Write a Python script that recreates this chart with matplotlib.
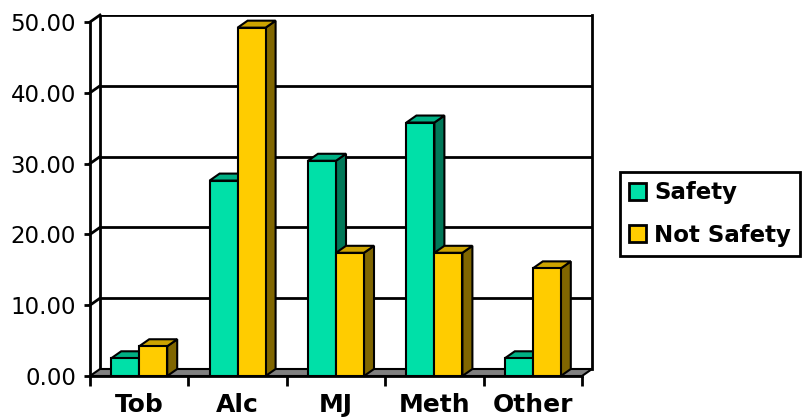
#! /usr/bin/env python3

import matplotlib
matplotlib.use("Agg")
import matplotlib.pyplot as plt
from matplotlib.patches import Polygon, Patch

categories = ["Tob", "Alc", "MJ", "Meth", "Other"]
safety = [2.5, 27.6, 30.4, 35.8, 2.5]
not_safety = [4.2, 49.2, 17.4, 17.4, 15.2]
series_names = ["Safety", "Not Safety"]

# face colours: front, top, side
green = ("#00E0A8", "#00B084", "#007858")
yellow = ("#FFCC00", "#CCA300", "#806600")

W, H = 803, 418
fig = plt.figure(figsize=(W / 100, H / 100), dpi=100)

# pixel layout of the front plane and the depth offset
x0_px, x1_px = 90, 582
y0_px, y50_px = 376, 22
depth_px = (10, 7)
cat_px = (x1_px - x0_px) / len(categories)
val_px = (y0_px - y50_px) / 50.0
dx = depth_px[0] / cat_px
dy = depth_px[1] / val_px

ax = fig.add_axes([x0_px / W, (H - y0_px) / H,
                   (x1_px - x0_px + depth_px[0]) / W,
                   (y0_px - y50_px + depth_px[1]) / H])
n = len(categories)
ax.set_xlim(-0.5, n - 0.5 + dx)
ax.set_ylim(0, 50 + dy)

lw = 2
# floor
ax.add_patch(Polygon([(-0.5, 0), (n - 0.5, 0), (n - 0.5 + dx, dy), (-0.5 + dx, dy)],
                     closed=True, facecolor="#808080", edgecolor="black",
                     linewidth=1.5, zorder=1))
# back wall with gridlines, plus the slanted bits on the side wall
for v in range(10, 51, 10):
    ax.plot([-0.5 + dx, n - 0.5 + dx], [v + dy, v + dy], color="black", lw=lw, zorder=0.5)
    ax.plot([-0.5, -0.5 + dx], [v, v + dy], color="black", lw=lw, zorder=0.5,
            clip_on=False)
ax.plot([-0.5 + dx, -0.5 + dx], [dy, 50 + dy], color="black", lw=lw, zorder=0.5)
ax.plot([n - 0.5 + dx, n - 0.5 + dx], [dy, 50 + dy], color="black", lw=lw,
        zorder=0.5, clip_on=False)


def bar3d(xc, width, vals, colors, z):
    rects = ax.bar(xc, vals, width=width, color=colors[0], edgecolor="black",
                   linewidth=1.5, zorder=z + 0.2)
    for r, v in zip(rects, vals):
        xa = r.get_x()
        xb = xa + r.get_width()
        ax.add_patch(Polygon([(xb, 0), (xb + dx, dy), (xb + dx, v + dy), (xb, v)],
                             closed=True, facecolor=colors[2], edgecolor="black",
                             linewidth=1.5, zorder=z, clip_on=False))
        ax.add_patch(Polygon([(xa, v), (xb, v), (xb + dx, v + dy), (xa + dx, v + dy)],
                             closed=True, facecolor=colors[1], edgecolor="black",
                             linewidth=1.5, zorder=z + 0.1, clip_on=False))


bw = 28 / cat_px
xs = list(range(n))
bar3d([x - bw / 2 for x in xs], bw, safety, green, 2)
bar3d([x + bw / 2 for x in xs], bw, not_safety, yellow, 3)

# axes: front left axis and front floor edge
for s in ["top", "right"]:
    ax.spines[s].set_visible(False)
ax.spines["left"].set_bounds(0, 50)
ax.spines["bottom"].set_bounds(-0.5, n - 0.5)
ax.spines["left"].set_linewidth(lw)
ax.spines["bottom"].set_linewidth(lw)
ax.spines["left"].set_zorder(5)
ax.spines["bottom"].set_zorder(5)

ax.set_yticks(range(0, 51, 10))
ax.set_yticklabels([f"{v:.2f}" for v in range(0, 51, 10)], fontsize=16.5)
ax.tick_params(axis="y", direction="out", length=4, width=lw, pad=6)

ax.set_xticks(xs)
ax.set_xticklabels(categories, fontsize=18, fontweight="bold")
ax.set_xticks([x - 0.5 for x in range(n + 1)], minor=True)
ax.tick_params(axis="x", which="major", length=0, pad=12.5)
ax.tick_params(axis="x", which="minor", direction="out", length=7, width=lw)

handles = [Patch(facecolor=green[0], edgecolor="black", linewidth=2),
           Patch(facecolor=yellow[0], edgecolor="black", linewidth=2)]
leg = fig.legend(handles, series_names, loc="upper left",
                 bbox_to_anchor=(620 / W, 1 - 172 / H),
                 prop={"size": 16.5, "weight": "bold"},
                 handlelength=0.75, handleheight=0.75, handletextpad=0.35,
                 borderpad=0.4, labelspacing=0.85, borderaxespad=0,
                 fancybox=False, framealpha=1)
leg.get_frame().set_edgecolor("black")
leg.get_frame().set_linewidth(lw)

fig.savefig("out.png", dpi=100)
